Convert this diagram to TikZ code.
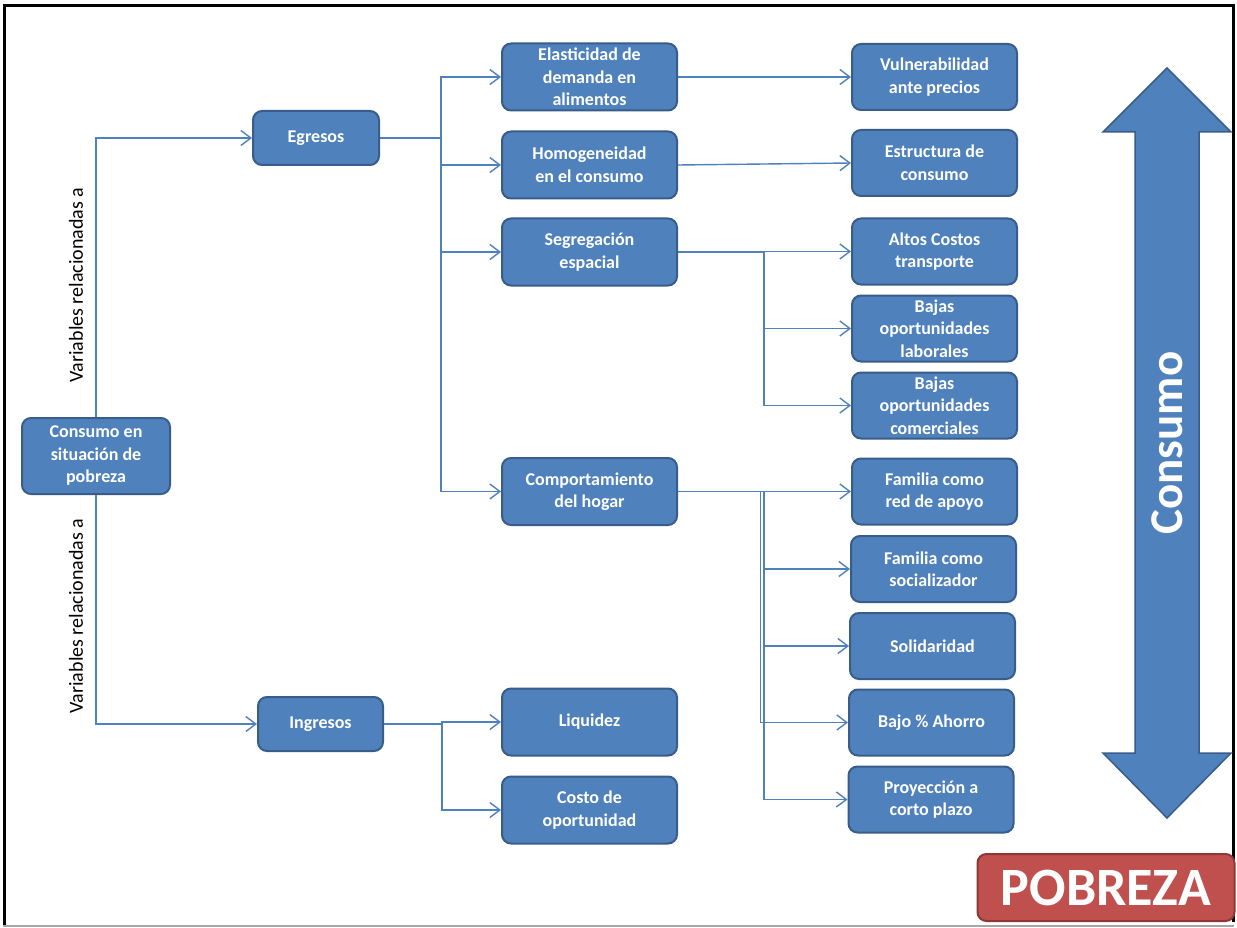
\documentclass[tikz,border=0pt]{standalone}
\usepackage{fontspec}
\setmainfont{Carlito}
\usetikzlibrary{arrows.meta}

\definecolor{boxfill}{RGB}{79,129,189}
\definecolor{boxedge}{RGB}{56,93,138}
\definecolor{linkcol}{RGB}{79,129,189}
\definecolor{redfill}{RGB}{192,80,77}
\definecolor{rededge}{RGB}{140,56,54}

\tikzset{
  box/.style={draw=boxedge, fill=boxfill, line width=2pt, rounded corners=9pt,
    text=white, align=center, inner sep=0pt,
    font=\fontsize{18}{22.5}\selectfont\bfseries},
  midbox/.style={box, minimum width=175pt, minimum height=67pt},
  rbox/.style={box, minimum width=165pt, minimum height=66pt},
  conn/.style={draw=linkcol, line width=1.4pt,
    -{Straight Barb[length=10pt,width=15pt,line width=1.4pt]}},
  link/.style={draw=linkcol, line width=1.4pt},
  sidelabel/.style={rotate=90, font=\fontsize{20}{24}\selectfont, text=black, inner sep=0pt},
}

\begin{document}
\begin{tikzpicture}[x=1pt, y=-1pt]
\useasboundingbox (0,0) rectangle (1237,928);
\fill[white] (0,0) rectangle (1237,928);

% page frame
\draw[black, line width=3.5pt] (4.5,926) -- (4.5,5.5) -- (1233.5,5.5) -- (1233.5,922);
\draw[gray!70, line width=1.5pt] (3,926) -- (1234,926);

% root and first level
\node[box, minimum width=148pt, minimum height=76pt] (cs) at (96,456) {Consumo en\\situación de\\pobreza};
\node[box, minimum width=126pt, minimum height=54pt] (eg) at (316,138) {Egresos};
\node[box, minimum width=125pt, minimum height=54pt] (in) at (320.5,724) {Ingresos};

% second level
\node[midbox] (el) at (589.5,77) {Elasticidad de\\demanda en\\alimentos};
\node[midbox] (ho) at (589.5,165) {Homogeneidad\\en el consumo};
\node[midbox] (se) at (589.5,252) {Segregación\\espacial};
\node[midbox] (co) at (589.5,491.5) {Comportamiento\\del hogar};
\node[midbox] (li) at (589.5,722) {Liquidez};
\node[midbox] (cp) at (589.5,810) {Costo de\\oportunidad};

% third level
\node[rbox] (vu) at (934.5,77) {Vulnerabilidad\\ante precios};
\node[rbox] (es) at (934.5,163) {Estructura de\\consumo};
\node[rbox] (al) at (934.5,251.5) {Altos Costos\\transporte};
\node[rbox] (bl) at (934.5,328.5) {Bajas\\oportunidades\\laborales};
\node[rbox] (bc) at (934.5,405.5) {Bajas\\oportunidades\\comerciales};
\node[rbox] (fa) at (934.5,491.5) {Familia como\\red de apoyo};
\node[rbox] (fs) at (933.5,569) {Familia como\\socializador};
\node[rbox] (so) at (932.5,646) {Solidaridad};
\node[rbox] (ah) at (931.5,722.5) {Bajo \% Ahorro};
\node[rbox] (pr) at (931,799.5) {Proyección a\\corto plazo};

% root to first level
\draw[conn] (cs.north) |- (eg.west);
\draw[conn] (cs.south) |- (in.west);
\node[sidelabel] (lab1) at (76,285) {Variables relacionadas a};
\node[sidelabel] (lab2) at (76,616) {Variables relacionadas a};

% Egresos branches
\coordinate (egbus) at (441,138);
\draw[link] (eg.east) -- (egbus);
\draw[conn] (egbus) |- (el.west);
\draw[conn] (egbus) |- (ho.west);
\draw[conn] (egbus) |- (se.west);
\draw[conn] (egbus) |- (co.west);

% Ingresos branches
\coordinate (inbus) at (442,724);
\draw[link] (in.east) -- (inbus);
\draw[conn] (inbus) |- (li.west);
\draw[conn] (inbus) |- (cp.west);

% direct links
\draw[conn] (el.east) -- (vu.west);
\draw[conn] (ho.east) -- (es.west);

% Segregación branches
\coordinate (sebus) at (764,252);
\draw[link] (se.east) -- (sebus);
\draw[conn] (sebus) |- (al.west);
\draw[conn] (sebus) |- (bl.west);
\draw[conn] (sebus) |- (bc.west);

% Comportamiento branches
\coordinate (cobusA) at (764,491.5);
\coordinate (cobusB) at (760.5,491.5);
\draw[link] (co.east) -- (cobusA);
\draw[conn] (cobusA) |- (fa.west);
\draw[conn] (cobusA) |- (fs.west);
\draw[conn] (cobusA) |- (so.west);
\draw[conn] (cobusB) |- (ah.west);
\draw[conn] (cobusA) |- (pr.west);

% double arrow
\draw[draw=boxedge, fill=boxfill, line width=1.5pt, line join=miter]
  (1167,68) -- (1231,132) -- (1199,132) -- (1199,753) -- (1231,753)
  -- (1167,818) -- (1103,753) -- (1135,753) -- (1135,132) -- (1103,132) -- cycle;
\node[rotate=90, text=white, font=\fontsize{47}{50}\selectfont\bfseries, inner sep=0pt] (cons) at (1167,443) {Consumo};

% poverty label
\node[draw=rededge, fill=redfill, line width=2pt, rounded corners=9pt,
  minimum width=257pt, minimum height=67pt, inner sep=0pt, text=white,
  font=\fontsize{54}{58}\selectfont\bfseries] (pob) at (1106,887.5) {POBREZA};
\end{tikzpicture}
\end{document}
